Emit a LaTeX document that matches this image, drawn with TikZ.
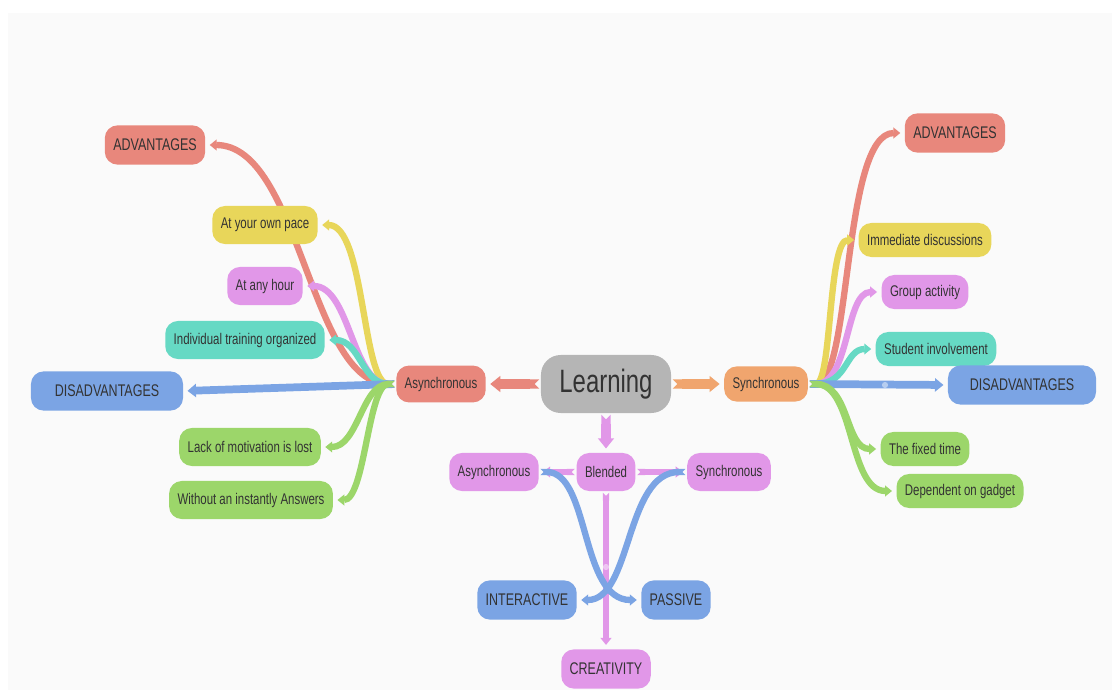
\documentclass[tikz,border=0pt]{standalone}
\usepackage{fontspec}
\setmainfont{Liberation Sans}[FakeStretch=0.74]
\usetikzlibrary{arrows.meta,positioning,backgrounds}
\definecolor{redc}{HTML}{E8877C}
\definecolor{orangec}{HTML}{F0A56E}
\definecolor{grayc}{HTML}{B5B5B5}
\definecolor{pinkc}{HTML}{E197E8}
\definecolor{yellowc}{HTML}{E8D65A}
\definecolor{tealc}{HTML}{66D9C4}
\definecolor{bluec}{HTML}{7BA4E4}
\definecolor{greenc}{HTML}{9CD66A}
\definecolor{inkc}{HTML}{333333}
\definecolor{bgc}{HTML}{FAFAFA}

\begin{document}
\begin{tikzpicture}[x=0.025cm,y=-0.025cm,
  topic/.style={rounded corners=9pt, inner xsep=6pt, minimum height=0.95cm, text=inkc, font=\fontsize{11}{13}\selectfont},
  bigtopic/.style={topic, minimum height=0.98cm, font=\fontsize{12}{14}\selectfont},
  branch/.style={line width=4.5pt, shorten <=1pt, shorten >=3pt, arrows={Triangle Cap[reversed]-Triangle[length=0pt 1.1, width=0pt 1.7]}},
  mainarrow/.style={branch, line width=6.5pt}]

	% centre
	\node[topic, fill=grayc, minimum width=3.25cm, minimum height=1.45cm, rounded corners=14pt, font=\fontsize{23}{27}\selectfont] (learn) at (606,384) {Learning};
	\node[topic, fill=redc, minimum height=0.92cm] (asyn) at (441,384) {Asynchronous};
	\node[topic, fill=orangec, minimum height=0.88cm] (syn) at (766,384) {Synchronous};
	
	% blended
	\node[topic, fill=pinkc] (blend) at (606,472) {Blended};
	\node[topic, fill=pinkc] (basyn) at (494,472) {Asynchronous};
	\node[topic, fill=pinkc] (bsyn) at (729,472) {Synchronous};
	\node[bigtopic, fill=bluec] (inter) at (527,600) {INTERACTIVE};
	\node[bigtopic, fill=bluec] (passive) at (676,600) {PASSIVE};
	\node[bigtopic, fill=pinkc] (creat) at (606,669) {CREATIVITY};
	
	% asynchronous side
	\node[bigtopic, fill=redc] (advL) at (155,145) {ADVANTAGES};
	\node[topic, fill=yellowc] (pace) at (265,225) {At your own pace};
	\node[topic, fill=pinkc] (hour) at (265,286) {At any hour};
	\node[topic, fill=tealc] (indiv) at (245,340) {Individual training organized};
	\node[bigtopic, fill=bluec, minimum width=3.8cm] (disL) at (107,391) {DISADVANTAGES};
	\node[topic, fill=greenc] (lack) at (250,447) {Lack of motivation is lost};
	\node[topic, fill=greenc] (without) at (251,500) {Without an instantly Answers};
	
	% synchronous side
	\node[bigtopic, fill=redc, minimum width=2.5cm] (advR) at (955,133) {ADVANTAGES};
	\node[topic, fill=yellowc, minimum height=0.85cm] (immed) at (925,240) {Immediate discussions};
	\node[topic, fill=pinkc, minimum height=0.85cm] (group) at (925,292) {Group activity};
	\node[topic, fill=tealc, minimum height=0.85cm] (student) at (936,349) {Student involvement};
	\node[bigtopic, fill=bluec, minimum width=3.7cm] (disR) at (1022,385) {DISADVANTAGES};
	\node[topic, fill=greenc, minimum height=0.85cm] (fixed) at (925,449) {The fixed time};
	\node[topic, fill=greenc, minimum height=0.85cm] (gadget) at (960,491) {Dependent on gadget};
	
	\begin{pgfonlayer}{background}
	\fill[white] (0,0) rectangle (1112,690);
	\fill[bgc] (8,13) rectangle (1112,690);
	
	\draw[mainarrow, redc] (learn.west) -- (asyn.east);
	\draw[mainarrow, orangec] (learn.east) -- (syn.west);
	\draw[mainarrow, pinkc] (learn.south) -- (blend.north);
	
	\draw[branch, pinkc] (blend.west) -- (basyn.east);
	\draw[branch, pinkc] (blend.east) -- (bsyn.west);
	\draw[branch, pinkc] (blend.south) -- (creat.north);
	\fill[white, opacity=.45] (606,567) circle (2.2pt);
	\draw[branch, bluec] (basyn.east) .. controls (590,472) and (580,600) .. (passive.west);
	\draw[branch, bluec] (bsyn.west) .. controls (625,472) and (632,600) .. (inter.east);
	
	\draw[branch, redc] (asyn.west) .. controls (310,384) and (300,145) .. (advL.east);
	\draw[branch, yellowc] (asyn.west) .. controls (362,384) and (365,225) .. (pace.east);
	\draw[branch, pinkc] (asyn.west) .. controls (352,384) and (350,286) .. (hour.east);
	\draw[branch, tealc] (asyn.west) .. controls (362,384) and (360,340) .. (indiv.east);
	\draw[branch, bluec, line width=5.5pt] (asyn.west) -- (disL.east);
	\draw[branch, greenc] (asyn.west) .. controls (362,384) and (358,447) .. (lack.east);
	\draw[branch, greenc] (asyn.west) .. controls (368,384) and (365,500) .. (without.east);
	
	\draw[branch, redc] (syn.east) .. controls (852,384) and (842,133) .. (advR.west);
	\draw[branch, yellowc] (syn.east) .. controls (832,384) and (828,240) .. (immed.west);
	\draw[branch, pinkc] (syn.east) .. controls (850,384) and (845,292) .. (group.west);
	\draw[branch, tealc] (syn.east) .. controls (848,384) and (845,349) .. (student.west);
	\draw[branch, bluec, line width=5.5pt] (syn.east) -- (disR.west);
	\fill[white, opacity=.45] (885,385) circle (2.2pt);
	\draw[branch, greenc] (syn.east) .. controls (850,384) and (845,449) .. (fixed.west);
	\draw[branch, greenc] (syn.east) .. controls (855,384) and (848,491) .. (gadget.west);
	\end{pgfonlayer}
\end{tikzpicture}
\end{document}
